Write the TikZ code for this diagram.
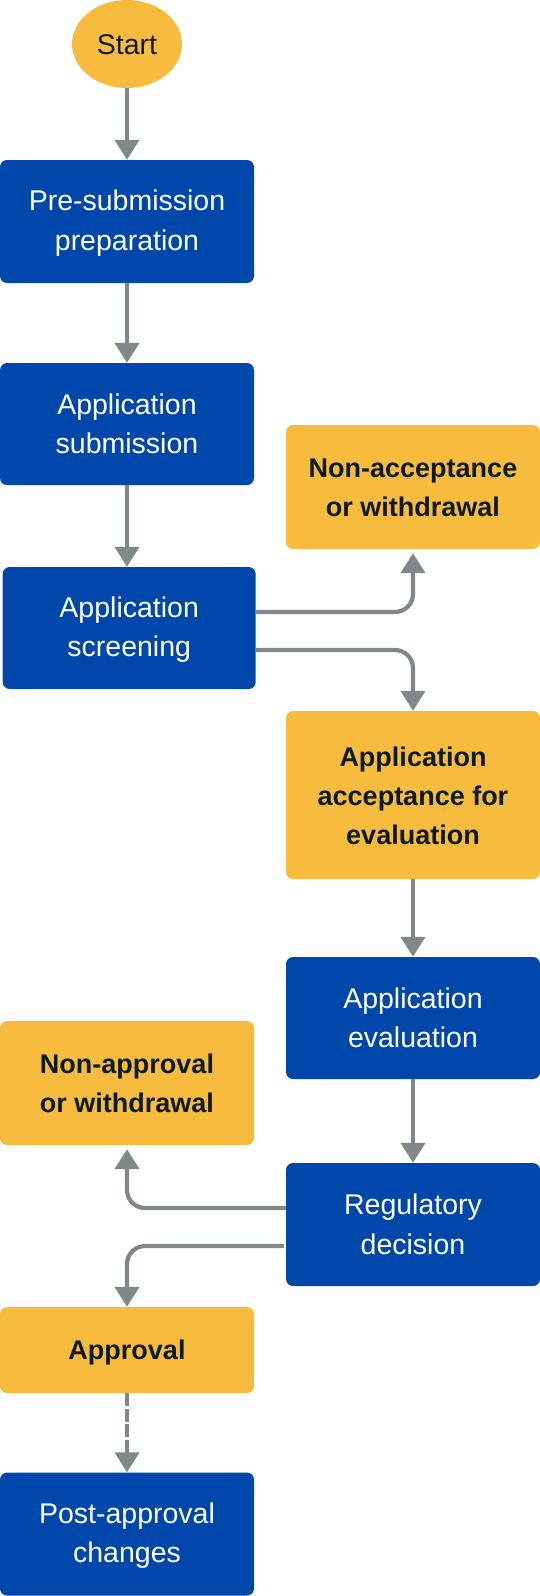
\documentclass[tikz,border=0pt]{standalone}
\usepackage{fontspec}
\setmainfont{Liberation Sans}
\usetikzlibrary{arrows.meta,shapes.geometric}
\definecolor{bblue}{RGB}{0,71,171}
\definecolor{byel}{RGB}{247,188,62}
\definecolor{agray}{RGB}{127,136,138}
\definecolor{tdark}{RGB}{12,26,28}
\newcommand\mytop{\rule{0pt}{24pt}}
\newcommand\mybot{\rule[-4pt]{0pt}{0pt}}
\begin{document}
\begin{tikzpicture}[x=1pt,y=-1pt,
  box/.style={rectangle, rounded corners=7pt, minimum width=254pt, inner sep=0pt, align=center},
  bluebox/.style={box, fill=bblue, text=white, font=\fontsize{28.5}{39.5}\selectfont},
  yelbox/.style={box, fill=byel, text=tdark, font=\fontsize{27}{39}\selectfont\bfseries},
  conn/.style={draw=agray, line width=4.2pt, -{Triangle[length=20pt,width=24pt]}},
  elbow/.style={conn, rounded corners=18pt}
]
\fill[white] (0,0) rectangle (540,1596);

\node[ellipse, fill=byel, text=tdark, minimum width=110pt, minimum height=88pt, inner sep=0pt,
  font=\fontsize{28.5}{39}\selectfont] (start) at (127,44) {\mytop Start\mybot};
\node[bluebox, minimum height=123pt] (pre) at (127,221.5) {\mytop Pre-submission\\preparation\mybot};
\node[bluebox, minimum height=122pt] (sub) at (127,424) {\mytop Application\\submission\mybot};
\node[bluebox, minimum height=122pt, minimum width=253pt] (scr) at (129.2,628) {\mytop Application\\screening\mybot};
\node[yelbox, minimum height=124pt] (nacc) at (413,487) {\mytop Non-acceptance\\or withdrawal\mybot};
\node[yelbox, minimum height=168pt] (acc) at (413,795) {\mytop Application\\acceptance for\\evaluation\mybot};
\node[bluebox, minimum height=122pt] (eval) at (413,1018) {\mytop Application\\evaluation\mybot};
\node[yelbox, minimum height=124pt] (nappr) at (127,1083) {\mytop Non-approval\\or withdrawal\mybot};
\node[bluebox, minimum height=123pt] (reg) at (413,1224.5) {\mytop Regulatory\\decision\mybot};
\node[yelbox, minimum height=86pt] (appr) at (127,1350) {\mytop Approval\mybot};
\node[bluebox, minimum height=123pt] (post) at (127,1534) {\mytop Post-approval\\changes\mybot};

\draw[conn] (start) -- (pre);
\draw[conn] (pre) -- (sub);
\draw[conn] (sub.south) -- (sub.south |- scr.north);
\draw[elbow, shorten >=4pt] ([yshift=16pt]scr.east) -| (nacc.south);
\draw[elbow] ([yshift=-22pt]scr.east) -| (acc.north);
\draw[conn] (acc) -- (eval);
\draw[conn] (eval) -- (reg);
\draw[elbow, shorten >=4pt] ([yshift=16.5pt]reg.west) -| (nappr.south);
\draw[elbow] ([xshift=-2pt,yshift=-21.5pt]reg.west) -| (appr.north);
\draw[conn, dash pattern=on 13pt off 2.5pt] (appr) -- (post);
\end{tikzpicture}
\end{document}
